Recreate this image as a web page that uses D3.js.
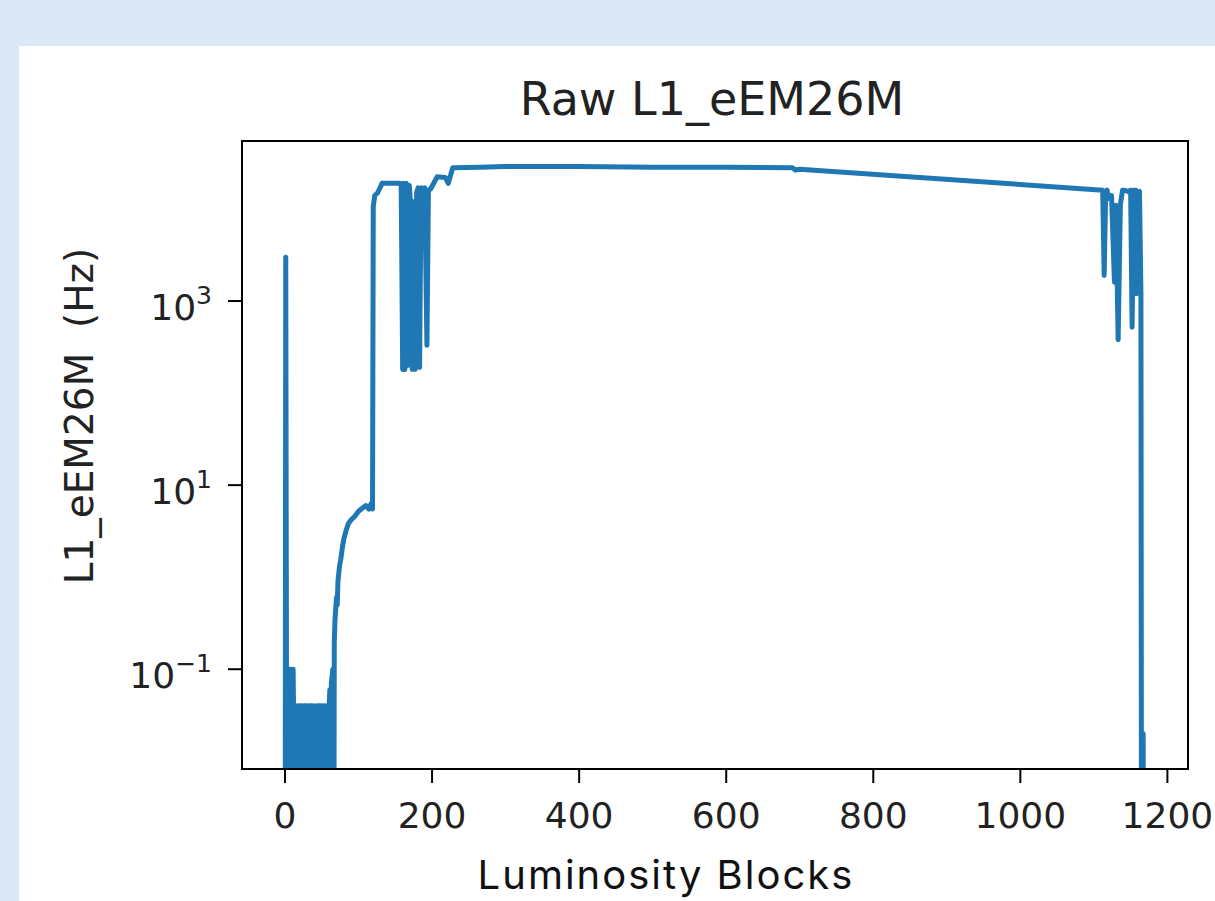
<!DOCTYPE html>
<html lang="en">
<head>
<meta charset="UTF-8">
<title>Raw L1_eEM26M</title>
<style>
  body { margin: 0; background: #dce8f5; }
  svg { display: block; }
</style>
</head>
<body>
<svg width="1215" height="901"></svg>
<script src="https://d3js.org/d3.v7.min.js"></script>
<script>
// luminosity block numbers and raw rates (Hz); 0 = no rate
var lumiBlocks = [0, 1, 2, 3, 4, 5, 6, 7, 8, 9, 10, 11, 12, 13, 15, 16, 17, 18, 19, 21, 22, 23, 25, 26, 28, 29, 31, 33, 34, 36, 37, 39, 41, 42, 43, 45, 46, 48, 49, 51, 53, 54, 56, 57, 59, 60, 61, 62, 63, 65, 66, 67, 68, 70, 71, 72, 74, 76, 78, 80, 83, 86, 90, 95, 100, 105, 110, 114, 117, 119,
  120, 122, 126, 132, 145, 156, 158, 160, 161, 163, 165, 167, 169, 171, 173, 175, 177, 179, 181, 183, 185, 187, 190, 193, 195, 198, 207, 218, 222, 228, 265, 300, 400, 500, 600, 690, 694, 700,
  1112, 1114, 1116, 1118, 1120, 1124, 1128, 1130, 1133, 1136, 1139, 1142, 1146, 1150, 1152, 1154, 1157, 1158, 1160, 1162, 1164, 1165, 1167, 1168];
var rates = [0, 3000, 0.09, 0.07, 0, 0.1, 0.1, 0, 0.1, 0.08, 0, 0.1, 0.02, 0, 0.03, 0, 0.04, 0, 0.04, 0.04, 0, 0.04, 0, 0.04, 0.04, 0, 0.04, 0, 0.04, 0.04, 0, 0.04, 0.03, 0, 0.04, 0, 0.04, 0.04, 0, 0.04, 0, 0.04, 0, 0.04, 0, 0.04, 0.06, 0, 0.07, 0.1, 0, 0.2, 0.35, 0.6, 0.5, 0.9, 1.3, 1.6, 2.1, 2.6, 3.2, 3.8, 4.2, 4.6, 5.2, 5.6, 6, 5.5, 6.3, 5.5,
  10500, 14000, 15000, 19000, 19000, 19000, 18000, 180, 19000, 180, 19000, 200, 18000, 10500, 180, 12000, 180, 15000, 17000, 190, 17000, 16000, 17000, 330, 16000, 16500, 22400, 22000, 19000, 28000, 28500, 29000, 29000, 28500, 28500, 28000, 26500, 27000,
  16000, 1900, 15000, 16000, 13000, 14000, 1600, 11000, 380, 11000, 16000, 16000, 15500, 16000, 520, 16000, 16000, 1200, 15000, 15500, 1200, 0, 0.02, 0];
var xTicks = [0, 200, 400, 600, 800, 1000, 1200];
var yTickExps = [-1, 1, 3];

var svg = d3.select('svg')
var width = +svg.attr("width")
var height = +svg.attr("height")

// white panel
svg.append("rect").attr("x", 19).attr("y", 46).attr("width", width - 19).attr("height", height - 46).attr("fill", "#fff")

var box = { left: 242, top: 141, right: 1188, bottom: 769 }

var x = d3.scaleLinear().domain([-58.5, 1228]).range([box.left, box.right])
var y = d3.scaleLog().domain([0.00824, 54800]).range([box.bottom, box.top])

var data = lumiBlocks.map(function (lb, i) { return { lb: lb, v: rates[i] } })

svg.append("clipPath").attr("id", "plotArea").append("rect")
  .attr("x", box.left).attr("y", box.top)
  .attr("width", box.right - box.left).attr("height", box.bottom - box.top)

var line = d3.line()
  .x(function (d) { return x(d.lb) })
  .y(function (d) { return d.v > 0 ? y(d.v) : box.bottom + 300 })

svg.append("path").datum(data)
  .attr("clip-path", "url(#plotArea)")
  .attr("d", line)
  .attr("fill", "none")
  .attr("stroke", "#1f77b4")
  .attr("stroke-width", 5)
  .attr("stroke-linejoin", "round")

// axes frame
svg.append("rect")
  .attr("x", box.left).attr("y", box.top)
  .attr("width", box.right - box.left).attr("height", box.bottom - box.top)
  .attr("fill", "none").attr("stroke", "#000").attr("stroke-width", 2)

var font = "'DejaVu Sans', sans-serif"

// x ticks
var xt = svg.append("g").selectAll("g").data(xTicks).enter().append("g")
xt.append("line")
  .attr("x1", function (d) { return x(d) }).attr("x2", function (d) { return x(d) })
  .attr("y1", box.bottom).attr("y2", box.bottom + 14)
  .attr("stroke", "#000").attr("stroke-width", 2)
xt.append("text")
  .attr("x", function (d) { return x(d) }).attr("y", 828)
  .attr("text-anchor", "middle")
  .style("font-family", font).style("font-size", "36px").style("fill", "#222")
  .text(function (d) { return d })

// y ticks (log, superscript exponents)
var yt = svg.append("g").selectAll("g").data(yTickExps).enter().append("g")
yt.append("line")
  .attr("x1", box.left - 14).attr("x2", box.left)
  .attr("y1", function (d) { return y(Math.pow(10, d)) }).attr("y2", function (d) { return y(Math.pow(10, d)) })
  .attr("stroke", "#000").attr("stroke-width", 2)
var ytext = yt.append("text")
  .attr("x", 212).attr("y", function (d) { return y(Math.pow(10, d)) + 19 })
  .attr("text-anchor", "end")
  .style("font-family", font).style("font-size", "36px").style("fill", "#222")
ytext.append("tspan").text("10")
ytext.append("tspan").attr("dy", -16).style("font-size", "25px")
  .text(function (d) { return d < 0 ? "\u2212" + (-d) : d })

// title
svg.append("text").attr("x", 712).attr("y", 115).attr("text-anchor", "middle")
  .style("font-family", font).style("font-size", "46px").style("fill", "#222")
  .text("Raw L1_eEM26M")

// y label
svg.append("text")
  .attr("transform", "translate(93,416) rotate(-90)")
  .attr("text-anchor", "middle")
  .style("font-family", font).style("font-size", "39px").style("fill", "#222")
  .style("white-space", "pre")
  .text("L1_eEM26M  (Hz)")

// x label
svg.append("text").attr("x", 666).attr("y", 889).attr("text-anchor", "middle")
  .style("font-family", "Inter, 'Open Sans', sans-serif").style("font-size", "40px")
  .style("letter-spacing", "2px").style("fill", "#111")
  .text("Luminosity Blocks")
</script>
</body>
</html>
